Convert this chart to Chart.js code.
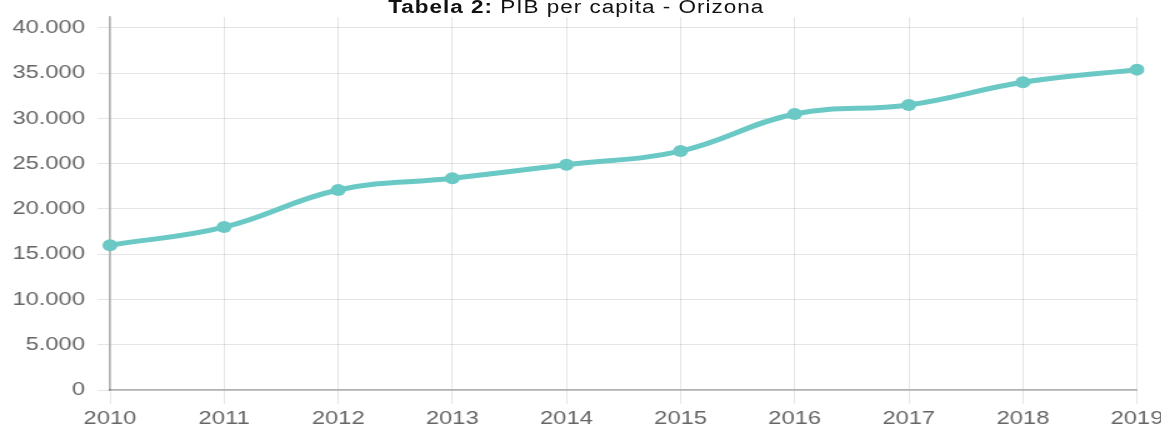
<!DOCTYPE html>
<html>
<head>
<meta charset="utf-8">
<script src="https://cdn.jsdelivr.net/npm/chart.js@4/dist/chart.umd.min.js"></script>
<style>
  html, body { margin: 0; padding: 0; background: #fff; }
  #frame { position: relative; width: 1161px; height: 425px; overflow: hidden; }
  #wrap {
    position: absolute; left: 0; top: 0;
    width: 940px; height: 440px;
    transform: scaleX(1.25); transform-origin: 0 0;
  }
  #title {
    position: absolute; left: 0; top: -2.5px; width: 922px;
    text-align: center; font: 18px/18px "Liberation Sans", Arial, sans-serif;
    letter-spacing: 0.8px;
    color: #111; z-index: 2; white-space: nowrap;
  }
  #title b { font-weight: bold; }
</style>
</head>
<body>
<div id="frame">
  <div id="wrap">
    <div id="title"><b>Tabela 2:</b> PIB per capita - Orizona</div>
    <canvas id="pibChart"></canvas>
  </div>
</div>
<script>
// Data
const years = ["2010", "2011", "2012", "2013", "2014", "2015", "2016", "2017", "2018", "2019"];
const pibPerCapita = [16000, 18000, 22100, 23400, 24900, 26400, 30500, 31500, 34000, 35400];
const yTicks = [0, 5000, 10000, 15000, 20000, 25000, 30000, 35000, 40000];

const lineColor = "rgb(106, 200, 197)";

// 40000 -> "40.000"
function fmt(v) {
    return String(v).replace(/\B(?=(\d{3})+(?!\d))/g, ".");
}

Chart.defaults.font.family = "'Liberation Sans', Arial, sans-serif";
Chart.defaults.font.size = 19;
Chart.defaults.color = "#666";

const ctx = document.getElementById("pibChart").getContext("2d");

const pibChart = new Chart(ctx, {
    type: "line",
    data: {
        labels: years,
        datasets: [{
            label: "PIB per capita",
            data: pibPerCapita,
            borderColor: lineColor,
            backgroundColor: lineColor,
            borderWidth: 5,
            pointRadius: 6,
            pointBorderWidth: 0,
            pointBackgroundColor: lineColor,
            tension: 0.4,
            fill: false
        }]
    },
    options: {
        responsive: true,
        maintainAspectRatio: false,
        animation: false,
        layout: {
            padding: { top: 17, right: 30.4, bottom: 0, left: 0 }
        },
        plugins: {
            legend: { display: false },
            title: { display: false },
            tooltip: { enabled: false }
        },
        scales: {
            x: {
                offset: false,
                grid: {
                    color: "rgba(0,0,0,0.1)",
                    lineWidth: 1,
                    tickLength: 14
                },
                border: { color: "rgba(0,0,0,0.3)", width: 1.5 },
                ticks: {
                    padding: 3,
                    maxRotation: 0,
                    autoSkip: false
                },
                afterFit: scale => { scale.height = 50; }
            },
            y: {
                min: 0,
                max: 41215,
                grid: {
                    color: "rgba(0,0,0,0.1)",
                    lineWidth: 1,
                    tickLength: 10
                },
                border: { color: "rgba(0,0,0,0.3)", width: 1.5 },
                ticks: {
                    stepSize: 5000,
                    padding: 10,
                    callback: v => fmt(v)
                },
                afterBuildTicks: scale => {
                    scale.ticks = yTicks.map(v => ({ value: v }));
                },
                afterFit: scale => {
                    scale.width = 88;
                    // labels fit inside the top margin, no extra room needed
                    scale.paddingTop = 0;
                    scale.paddingBottom = 0;
                }
            }
        }
    }
});
</script>
</body>
</html>
